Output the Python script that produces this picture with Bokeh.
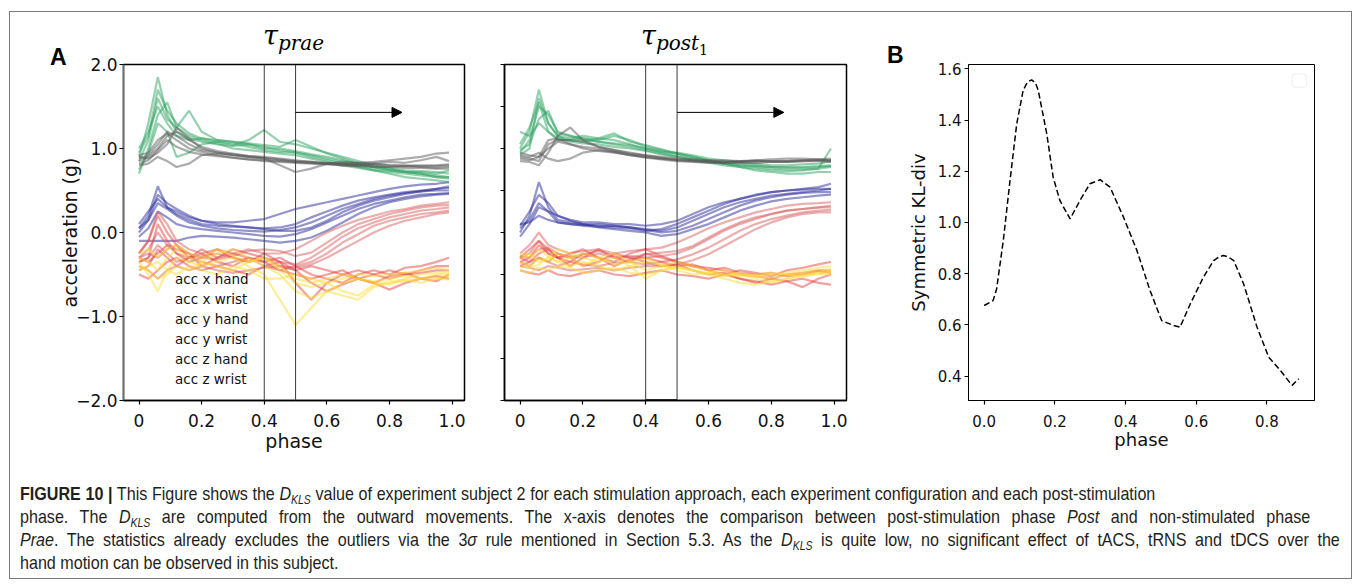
from bokeh.plotting import figure
from bokeh.models import (Span, Arrow, NormalHead, FixedTicker, Legend, LegendItem,
                          Div, BoxAnnotation, Range1d, PrintfTickFormatter,
                          GlobalInlineStyleSheet, InlineStyleSheet)
from bokeh.layouts import row, column
from bokeh.embed import file_html
from bokeh.resources import INLINE

# ---------------- data ----------------
phase = [0, 0.03, 0.06, 0.09, 0.12, 0.16, 0.2, 0.25, 0.3, 0.35, 0.4, 0.45, 0.5,
         0.55, 0.6, 0.65, 0.7, 0.75, 0.8, 0.85, 0.9, 0.95, 0.99]

series_names = ["acc x hand", "acc x wrist", "acc y hand", "acc y wrist", "acc z hand", "acc z wrist"]
series_colors = ["#2a2a9a", "#d95f5f", "#e74141", "#ffdd33", "#2ca25f", "#5a5a5a"]

# tau_prae traces
prae_x_hand = [
    [0.05, 0.20, 0.55, 0.30, 0.22, 0.15, 0.10, 0.08, 0.07, 0.06, 0.05, 0.06, 0.10, 0.18, 0.25, 0.32, 0.38, 0.42, 0.45, 0.48, 0.50, 0.52, 0.53],
    [0.00, 0.15, 0.35, 0.28, 0.20, 0.12, 0.08, 0.05, 0.03, 0.02, 0.01, 0.03, 0.06, 0.12, 0.20, 0.28, 0.34, 0.40, 0.44, 0.47, 0.49, 0.50, 0.50],
    [0.10, 0.25, 0.40, 0.30, 0.25, 0.18, 0.14, 0.12, 0.12, 0.14, 0.16, 0.22, 0.28, 0.32, 0.36, 0.40, 0.44, 0.48, 0.52, 0.55, 0.57, 0.58, 0.60],
    [-0.05, 0.05, 0.25, 0.18, 0.10, 0.06, 0.04, 0.02, 0.00, -0.02, -0.04, -0.05, -0.02, 0.04, 0.12, 0.20, 0.28, 0.34, 0.38, 0.42, 0.45, 0.46, 0.47],
    [0.05, 0.15, 0.45, 0.35, 0.28, 0.20, 0.14, 0.10, 0.08, 0.06, 0.04, 0.02, 0.02, 0.06, 0.14, 0.24, 0.32, 0.38, 0.42, 0.46, 0.49, 0.52, 0.55],
    [-0.10, -0.10, -0.10, -0.10, -0.10, -0.06, -0.04, -0.05, -0.06, -0.08, -0.10, -0.12, -0.10, -0.06, 0.02, 0.12, 0.22, 0.30, 0.36, 0.40, 0.43, 0.45, 0.46],
]
prae_x_wrist = [
    [-0.30, -0.20, 0.00, -0.15, -0.25, -0.30, -0.28, -0.25, -0.30, -0.35, -0.30, -0.35, -0.38, -0.30, -0.18, -0.05, 0.05, 0.12, 0.18, 0.22, 0.26, 0.28, 0.30],
    [-0.35, -0.30, -0.15, -0.25, -0.35, -0.30, -0.35, -0.40, -0.35, -0.30, -0.40, -0.45, -0.40, -0.35, -0.25, -0.12, -0.02, 0.08, 0.14, 0.18, 0.22, 0.24, 0.26],
    [-0.25, -0.10, 0.25, 0.10, -0.10, -0.20, -0.25, -0.20, -0.25, -0.20, -0.25, -0.25, -0.20, -0.10, 0.00, 0.08, 0.15, 0.20, 0.25, 0.28, 0.32, 0.34, 0.36],
    [-0.40, -0.45, -0.55, -0.45, -0.40, -0.45, -0.40, -0.45, -0.48, -0.45, -0.42, -0.40, -0.42, -0.38, -0.30, -0.20, -0.10, 0.00, 0.08, 0.14, 0.18, 0.22, 0.24],
    [-0.30, -0.25, -0.30, -0.20, -0.15, -0.25, -0.30, -0.32, -0.28, -0.22, -0.20, -0.22, -0.28, -0.24, -0.12, 0.00, 0.10, 0.16, 0.22, 0.26, 0.30, 0.32, 0.33],
]
prae_y_hand = [
    [-0.35, -0.30, 0.10, -0.10, -0.25, -0.35, -0.30, -0.20, -0.30, -0.35, -0.25, -0.35, -0.60, -0.80, -0.60, -0.50, -0.55, -0.50, -0.45, -0.50, -0.45, -0.40, -0.40],
    [-0.45, -0.40, -0.20, -0.30, -0.40, -0.30, -0.25, -0.35, -0.40, -0.30, -0.35, -0.45, -0.50, -0.55, -0.50, -0.45, -0.55, -0.60, -0.52, -0.48, -0.55, -0.58, -0.50],
    [-0.25, -0.10, 0.20, 0.00, -0.15, -0.30, -0.20, -0.30, -0.25, -0.30, -0.35, -0.30, -0.40, -0.50, -0.55, -0.60, -0.50, -0.45, -0.50, -0.42, -0.40, -0.35, -0.30],
    [-0.50, -0.55, -0.45, -0.35, -0.30, -0.40, -0.45, -0.40, -0.45, -0.50, -0.40, -0.35, -0.45, -0.60, -0.70, -0.62, -0.55, -0.60, -0.68, -0.60, -0.55, -0.52, -0.55],
    [-0.30, -0.35, -0.25, -0.15, -0.20, -0.25, -0.40, -0.30, -0.20, -0.25, -0.30, -0.40, -0.45, -0.40, -0.45, -0.50, -0.45, -0.50, -0.55, -0.50, -0.48, -0.45, -0.45],
]
prae_y_wrist = [
    [-0.35, -0.50, -0.70, -0.45, -0.30, -0.35, -0.40, -0.35, -0.30, -0.40, -0.50, -0.80, -1.10, -0.90, -0.70, -0.60, -0.55, -0.58, -0.55, -0.52, -0.55, -0.50, -0.50],
    [-0.30, -0.35, -0.45, -0.30, -0.20, -0.30, -0.35, -0.25, -0.20, -0.30, -0.40, -0.50, -0.70, -0.78, -0.70, -0.75, -0.80, -0.65, -0.60, -0.58, -0.55, -0.55, -0.52],
    [-0.40, -0.45, -0.55, -0.50, -0.40, -0.45, -0.35, -0.40, -0.45, -0.35, -0.30, -0.40, -0.55, -0.60, -0.55, -0.50, -0.55, -0.60, -0.62, -0.55, -0.50, -0.48, -0.48],
    [-0.25, -0.20, -0.30, -0.20, -0.15, -0.25, -0.30, -0.20, -0.28, -0.35, -0.30, -0.45, -0.60, -0.65, -0.60, -0.55, -0.50, -0.52, -0.50, -0.48, -0.45, -0.42, -0.45],
    [-0.45, -0.40, -0.35, -0.45, -0.50, -0.40, -0.45, -0.50, -0.40, -0.45, -0.55, -0.55, -0.50, -0.55, -0.60, -0.70, -0.75, -0.62, -0.58, -0.56, -0.60, -0.55, -0.56],
]
prae_z_hand = [
    [0.90, 1.30, 1.85, 1.40, 1.20, 1.12, 1.08, 1.05, 1.03, 1.05, 1.02, 0.98, 0.95, 0.92, 0.88, 0.84, 0.80, 0.76, 0.74, 0.72, 0.70, 0.68, 0.66],
    [0.85, 1.10, 1.60, 1.35, 1.25, 1.45, 1.20, 1.10, 1.08, 1.05, 1.00, 1.00, 0.97, 0.93, 0.90, 0.86, 0.82, 0.78, 0.76, 0.74, 0.73, 0.72, 0.70],
    [1.00, 1.20, 1.50, 1.30, 1.15, 1.10, 1.12, 1.08, 1.04, 1.10, 1.22, 1.08, 1.05, 1.00, 0.95, 0.90, 0.85, 0.80, 0.76, 0.72, 0.70, 0.66, 0.64],
    [0.75, 0.95, 1.30, 1.20, 0.90, 0.95, 1.05, 1.08, 1.06, 1.02, 0.98, 0.96, 0.95, 0.90, 0.86, 0.82, 0.78, 0.74, 0.70, 0.66, 0.64, 0.62, 0.60],
    [0.95, 1.15, 1.70, 1.45, 1.30, 1.18, 1.12, 1.10, 1.08, 1.06, 1.04, 1.02, 1.10, 1.02, 0.94, 0.88, 0.82, 0.78, 0.74, 0.72, 0.72, 0.70, 0.74],
    [0.70, 1.00, 1.40, 1.55, 1.25, 1.15, 1.10, 1.06, 1.00, 0.98, 0.96, 0.94, 0.92, 0.88, 0.84, 0.80, 0.77, 0.74, 0.72, 0.70, 0.68, 0.66, 0.66],
]
prae_z_wrist = [
    [0.85, 0.90, 1.00, 1.15, 1.20, 1.10, 1.02, 0.97, 0.94, 0.91, 0.89, 0.87, 0.85, 0.84, 0.83, 0.82, 0.81, 0.81, 0.80, 0.80, 0.79, 0.79, 0.80],
    [0.90, 0.88, 0.95, 1.05, 1.25, 1.12, 1.00, 0.95, 0.92, 0.90, 0.88, 0.86, 0.84, 0.83, 0.82, 0.82, 0.83, 0.82, 0.80, 0.79, 0.78, 0.77, 0.78],
    [0.80, 0.82, 0.90, 0.85, 0.78, 0.82, 0.92, 0.94, 0.92, 0.90, 0.88, 0.80, 0.72, 0.76, 0.82, 0.84, 0.83, 0.84, 0.86, 0.88, 0.90, 0.94, 0.95],
    [0.88, 0.92, 1.05, 1.20, 1.15, 1.05, 0.98, 0.95, 0.93, 0.91, 0.90, 0.88, 0.86, 0.84, 0.82, 0.80, 0.79, 0.78, 0.78, 0.79, 0.80, 0.80, 0.81],
    [0.92, 0.95, 1.10, 1.18, 1.10, 1.00, 0.96, 0.92, 0.89, 0.87, 0.85, 0.84, 0.83, 0.82, 0.81, 0.80, 0.80, 0.82, 0.84, 0.83, 0.86, 0.90, 0.85],
    [0.82, 0.86, 0.98, 1.10, 1.02, 0.96, 0.93, 0.91, 0.89, 0.87, 0.86, 0.85, 0.84, 0.83, 0.82, 0.81, 0.80, 0.79, 0.78, 0.77, 0.77, 0.76, 0.76],
]

# tau_post1 traces
post_x_hand = [
    [0.00, 0.20, 0.60, 0.30, 0.15, 0.12, 0.10, 0.08, 0.08, 0.06, 0.04, 0.02, 0.06, 0.14, 0.22, 0.30, 0.36, 0.40, 0.44, 0.46, 0.48, 0.50, 0.52],
    [0.05, 0.15, 0.35, 0.25, 0.12, 0.10, 0.09, 0.10, 0.08, 0.06, 0.03, 0.00, 0.02, 0.08, 0.16, 0.24, 0.32, 0.38, 0.42, 0.45, 0.47, 0.48, 0.48],
    [-0.05, 0.10, 0.30, 0.25, 0.20, 0.15, 0.12, 0.12, 0.10, 0.10, 0.08, 0.10, 0.14, 0.22, 0.30, 0.36, 0.40, 0.44, 0.48, 0.50, 0.52, 0.54, 0.58],
    [0.08, 0.25, 0.45, 0.35, 0.20, 0.14, 0.10, 0.06, 0.04, 0.02, 0.00, -0.04, -0.02, 0.04, 0.10, 0.18, 0.26, 0.32, 0.37, 0.40, 0.42, 0.44, 0.45],
    [0.10, 0.12, 0.20, 0.15, 0.12, 0.10, 0.08, 0.07, 0.06, 0.05, 0.02, 0.04, 0.10, 0.18, 0.26, 0.34, 0.40, 0.45, 0.48, 0.50, 0.51, 0.52, 0.52],
]
post_x_wrist = [
    [-0.30, -0.25, -0.10, -0.25, -0.30, -0.28, -0.30, -0.25, -0.30, -0.28, -0.30, -0.28, -0.25, -0.18, -0.08, 0.02, 0.10, 0.16, 0.22, 0.26, 0.28, 0.30, 0.30],
    [-0.35, -0.40, -0.30, -0.35, -0.40, -0.35, -0.38, -0.40, -0.36, -0.35, -0.38, -0.35, -0.32, -0.26, -0.18, -0.08, 0.02, 0.10, 0.16, 0.20, 0.24, 0.26, 0.27],
    [-0.25, -0.15, 0.00, -0.15, -0.20, -0.25, -0.22, -0.20, -0.25, -0.22, -0.20, -0.18, -0.12, -0.04, 0.05, 0.12, 0.18, 0.24, 0.28, 0.32, 0.34, 0.35, 0.36],
    [-0.40, -0.42, -0.45, -0.40, -0.42, -0.45, -0.44, -0.42, -0.45, -0.42, -0.40, -0.40, -0.38, -0.33, -0.26, -0.16, -0.06, 0.04, 0.12, 0.18, 0.22, 0.24, 0.24],
    [-0.28, -0.30, -0.20, -0.18, -0.25, -0.30, -0.26, -0.22, -0.28, -0.30, -0.26, -0.24, -0.22, -0.16, -0.06, 0.04, 0.12, 0.18, 0.22, 0.26, 0.28, 0.30, 0.32],
]
post_y_hand = [
    [-0.35, -0.30, -0.15, -0.25, -0.30, -0.40, -0.30, -0.20, -0.30, -0.35, -0.25, -0.30, -0.35, -0.40, -0.42, -0.45, -0.50, -0.52, -0.55, -0.50, -0.48, -0.45, -0.45],
    [-0.40, -0.35, -0.30, -0.35, -0.25, -0.30, -0.40, -0.35, -0.25, -0.30, -0.35, -0.40, -0.38, -0.45, -0.50, -0.48, -0.55, -0.60, -0.55, -0.58, -0.65, -0.55, -0.50],
    [-0.30, -0.20, -0.10, -0.20, -0.30, -0.25, -0.20, -0.30, -0.35, -0.25, -0.20, -0.28, -0.35, -0.40, -0.45, -0.50, -0.45, -0.48, -0.52, -0.45, -0.42, -0.38, -0.35],
    [-0.45, -0.48, -0.50, -0.45, -0.50, -0.52, -0.48, -0.45, -0.50, -0.52, -0.48, -0.45, -0.50, -0.52, -0.55, -0.50, -0.55, -0.58, -0.62, -0.58, -0.55, -0.60, -0.62],
    [-0.30, -0.35, -0.25, -0.20, -0.30, -0.35, -0.25, -0.30, -0.40, -0.32, -0.30, -0.35, -0.40, -0.38, -0.45, -0.42, -0.48, -0.50, -0.48, -0.52, -0.50, -0.46, -0.48],
]
post_y_wrist = [
    [-0.35, -0.40, -0.30, -0.35, -0.25, -0.30, -0.40, -0.30, -0.25, -0.35, -0.45, -0.40, -0.35, -0.40, -0.45, -0.50, -0.48, -0.52, -0.55, -0.50, -0.48, -0.45, -0.44],
    [-0.30, -0.25, -0.35, -0.30, -0.20, -0.25, -0.30, -0.35, -0.30, -0.40, -0.55, -0.45, -0.40, -0.45, -0.50, -0.52, -0.50, -0.55, -0.60, -0.55, -0.50, -0.48, -0.46],
    [-0.40, -0.42, -0.38, -0.30, -0.35, -0.40, -0.35, -0.40, -0.45, -0.40, -0.35, -0.38, -0.45, -0.50, -0.48, -0.45, -0.50, -0.52, -0.50, -0.48, -0.45, -0.42, -0.40],
    [-0.25, -0.30, -0.20, -0.28, -0.35, -0.30, -0.25, -0.30, -0.38, -0.35, -0.30, -0.40, -0.42, -0.45, -0.48, -0.50, -0.52, -0.50, -0.48, -0.50, -0.52, -0.48, -0.50],
    [-0.45, -0.48, -0.42, -0.45, -0.40, -0.42, -0.48, -0.45, -0.42, -0.48, -0.50, -0.45, -0.42, -0.45, -0.50, -0.55, -0.60, -0.62, -0.58, -0.55, -0.52, -0.50, -0.48],
]
post_z_hand = [
    [1.00, 1.20, 1.70, 1.30, 1.15, 1.12, 1.15, 1.12, 1.10, 1.05, 1.00, 0.96, 0.92, 0.88, 0.86, 0.84, 0.82, 0.80, 0.78, 0.78, 0.78, 0.79, 0.80],
    [0.95, 1.10, 1.50, 1.40, 1.20, 1.15, 1.12, 1.10, 1.15, 1.10, 1.02, 0.98, 0.94, 0.90, 0.86, 0.82, 0.80, 0.78, 0.76, 0.75, 0.75, 0.76, 0.78],
    [1.05, 1.25, 1.55, 1.20, 1.10, 1.10, 1.12, 1.08, 1.05, 1.02, 0.98, 0.94, 0.90, 0.86, 0.83, 0.80, 0.78, 0.74, 0.72, 0.70, 0.70, 0.72, 0.72],
    [0.98, 1.05, 1.35, 1.45, 1.18, 1.15, 1.10, 1.08, 1.06, 1.04, 1.00, 0.96, 0.95, 0.92, 0.88, 0.86, 0.84, 0.82, 0.80, 0.80, 0.81, 0.82, 0.85],
    [1.20, 1.15, 1.30, 1.20, 1.12, 1.10, 1.08, 1.12, 1.18, 1.08, 1.04, 0.99, 0.94, 0.90, 0.86, 0.82, 0.78, 0.76, 0.74, 0.73, 0.74, 0.76, 1.00],
    [0.92, 1.00, 1.60, 1.30, 1.15, 1.08, 1.06, 1.05, 1.02, 1.00, 0.97, 0.93, 0.90, 0.87, 0.84, 0.82, 0.80, 0.79, 0.78, 0.77, 0.77, 0.78, 0.79],
]
post_z_wrist = [
    [0.90, 0.88, 0.85, 1.05, 1.10, 1.10, 1.08, 1.02, 0.98, 0.95, 0.92, 0.90, 0.88, 0.87, 0.86, 0.86, 0.85, 0.85, 0.85, 0.85, 0.86, 0.86, 0.86],
    [0.85, 0.84, 0.80, 0.95, 1.15, 1.25, 1.10, 1.02, 0.98, 0.94, 0.92, 0.89, 0.87, 0.86, 0.85, 0.84, 0.85, 0.86, 0.85, 0.84, 0.85, 0.86, 0.85],
    [0.92, 0.90, 0.95, 0.88, 0.85, 0.88, 0.95, 0.98, 0.96, 0.93, 0.90, 0.88, 0.86, 0.85, 0.84, 0.83, 0.84, 0.86, 0.87, 0.88, 0.88, 0.87, 0.88],
    [0.88, 0.86, 0.90, 1.10, 1.12, 1.05, 1.00, 0.97, 0.95, 0.92, 0.90, 0.88, 0.86, 0.85, 0.84, 0.84, 0.83, 0.83, 0.84, 0.85, 0.86, 0.87, 0.86],
    [0.95, 0.92, 0.90, 1.00, 1.08, 1.05, 1.02, 1.00, 0.96, 0.92, 0.89, 0.87, 0.85, 0.84, 0.83, 0.83, 0.84, 0.85, 0.84, 0.84, 0.85, 0.85, 0.84],
]

# panel B: symmetric KL divergence
kl_phase = [0.0, 0.025, 0.035, 0.054, 0.073, 0.092, 0.11, 0.122, 0.134, 0.145, 0.153, 0.177, 0.195, 0.214,
            0.243, 0.271, 0.299, 0.328, 0.356, 0.394, 0.432, 0.469, 0.502, 0.536, 0.554,
            0.583, 0.62, 0.649, 0.665, 0.677, 0.69, 0.706, 0.734, 0.772, 0.805, 0.838, 0.871, 0.89]
kl_value = [0.676, 0.695, 0.74, 0.93, 1.164, 1.385, 1.515, 1.548, 1.557, 1.545, 1.515, 1.346, 1.177, 1.086,
            1.014, 1.086, 1.151, 1.167, 1.138, 1.021, 0.891, 0.735, 0.617, 0.598, 0.591,
            0.682, 0.786, 0.851, 0.866, 0.871, 0.866, 0.851, 0.760, 0.591, 0.474, 0.422, 0.364, 0.39]

window_bounds = [0.4, 0.5]
arrow_y = 1.43
arrow_end = 0.84

TICK_FONT = "DejaVu Sans"


def style_axes(p, tick_size, label_size, lw=1.5):
    for ax in (p.xaxis[0], p.yaxis[0]):
        ax.axis_line_color = "black"
        ax.axis_line_width = lw
        ax.major_tick_line_color = "black"
        ax.major_tick_line_width = 1.2
        ax.major_tick_in = 0
        ax.major_tick_out = 4
        ax.minor_tick_line_color = None
        ax.major_label_text_font = TICK_FONT
        ax.major_label_text_font_size = tick_size
        ax.major_label_text_color = "#111111"
        ax.major_label_standoff = 3
        ax.axis_label_text_font = TICK_FONT
        ax.axis_label_text_font_style = "normal"
        ax.axis_label_text_font_size = label_size
        ax.axis_label_text_color = "#111111"
    p.xgrid.visible = False
    p.ygrid.visible = False
    p.outline_line_color = "black"
    p.outline_line_width = lw
    p.background_fill_color = "white"
    p.border_fill_color = "white"


def add_traces(p, groups):
    for traces, color in zip(groups, series_colors):
        p.multi_line(xs=[phase] * len(traces), ys=traces, line_color=color,
                     line_alpha=0.5, line_width=2.2)


def add_window(p):
    for loc in window_bounds:
        p.add_layout(Span(location=loc, dimension="height", line_color="#3c3c3c", line_width=1))
    p.add_layout(Arrow(end=NormalHead(size=10, fill_color="black", line_color="black"),
                       x_start=window_bounds[1], y_start=arrow_y, x_end=arrow_end, y_end=arrow_y,
                       line_color="black", line_width=1))


# ---------------- panel A, tau_prae ----------------
p1 = figure(width=470, height=465, x_range=Range1d(-0.0495, 1.0395), y_range=Range1d(-2, 2),
            output_backend="svg", toolbar_location=None, title=None,
            min_border_left=113, min_border_right=16, min_border_top=51, min_border_bottom=75)
style_axes(p1, "17px", "19px")
p1.xaxis.ticker = FixedTicker(ticks=[0, 0.2, 0.4, 0.6, 0.8, 1.0])
p1.xaxis.major_label_overrides = {0: "0", 1: "1.0"}
p1.xaxis.major_label_standoff = 9
p1.yaxis.ticker = FixedTicker(ticks=[-2, -1, 0, 1, 2])
p1.yaxis.major_label_overrides = {-2: "\u22122.0", -1: "\u22121.0", 0: "0.0", 1: "1.0", 2: "2.0"}
p1.yaxis.major_label_standoff = 2
p1.xaxis.axis_label = "phase"
p1.yaxis.axis_label = "acceleration (g)"
p1.xaxis.axis_label_standoff = 0
p1.yaxis.axis_label_standoff = -8
p1.yaxis.axis_line_color = "#6e6e6e"
add_traces(p1, [prae_x_hand, prae_x_wrist, prae_y_hand, prae_y_wrist, prae_z_hand, prae_z_wrist])
add_window(p1)

items = []
for name, color in zip(series_names, series_colors):
    r = p1.line(x=[], y=[], line_color=color, line_alpha=0.45, line_width=3)
    items.append(LegendItem(label=name, renderers=[r]))
legend = Legend(items=items, location="bottom_left", background_fill_alpha=0,
                border_line_alpha=0, label_text_font="DejaVu Sans", label_text_font_size="13.5px",
                label_text_color="#111111", glyph_width=30, glyph_height=20, label_height=20,
                spacing=0, label_standoff=11, margin=1, padding=10)
p1.add_layout(legend)

# ---------------- panel A, tau_post1 ----------------
p2 = figure(width=390, height=465, x_range=Range1d(-0.0495, 1.0395), y_range=Range1d(-2, 2),
            output_backend="svg", toolbar_location=None, title=None,
            min_border_left=24, min_border_right=24, min_border_top=52, min_border_bottom=75)
style_axes(p2, "17px", "19px")
p2.xaxis.ticker = FixedTicker(ticks=[0, 0.2, 0.4, 0.6, 0.8, 1.0])
p2.xaxis.major_label_overrides = {0: "0", 1: "1.0"}
p2.xaxis.major_label_standoff = 9
# unlabelled y ticks: drawn as minor ticks so that no empty labels are produced
p2.yaxis.ticker = FixedTicker(ticks=[], minor_ticks=[-2, -1.5, -1, -0.5, 0, 0.5, 1, 1.5, 2])
p2.yaxis.minor_tick_line_color = "black"
p2.yaxis.minor_tick_line_width = 1.2
p2.yaxis.minor_tick_in = 0
p2.yaxis.minor_tick_out = 4
add_traces(p2, [post_x_hand, post_x_wrist, post_y_hand, post_y_wrist, post_z_hand, post_z_wrist])
add_window(p2)
p2.add_layout(BoxAnnotation(left=window_bounds[0], right=window_bounds[1], bottom=-2, top=-1.985,
                            fill_color="black", fill_alpha=1, line_color=None))

# ---------------- panel B ----------------
p3 = figure(width=481, height=465, x_range=Range1d(-0.0445, 0.9345), y_range=Range1d(0.305, 1.6168),
            output_backend="svg", toolbar_location=None, title=None,
            min_border_left=98, min_border_right=37, min_border_top=52, min_border_bottom=77)
style_axes(p3, "15px", "18px", lw=1)
p3.xaxis.ticker = FixedTicker(ticks=[0, 0.2, 0.4, 0.6, 0.8])
p3.yaxis.ticker = FixedTicker(ticks=[0.4, 0.6, 0.8, 1.0, 1.2, 1.4, 1.6])
p3.xaxis.formatter = PrintfTickFormatter(format="%.1f")
p3.yaxis.formatter = PrintfTickFormatter(format="%.1f")
p3.xaxis.major_label_standoff = 10
p3.xaxis.axis_label = "phase"
p3.yaxis.axis_label = "Symmetric KL-div"
p3.xaxis.axis_label_standoff = -1
p3.yaxis.axis_label_standoff = 6
p3.line(kl_phase, kl_value, line_color="black", line_width=1.5, line_dash="6 3")
p3.add_layout(BoxAnnotation(left=0.8715, right=0.912, bottom=1.528, top=1.580,
                            fill_color="white", fill_alpha=1, line_color="#c8c8c8",
                            line_width=1, border_radius=3))

# ---------------- panel letters, panel titles and caption (HTML) ----------------
serif = "font-family:'DejaVu Serif',serif;font-style:italic;"
overlay = (
    '<div style="position:relative;height:0;width:0;">'
    '<div style="position:absolute;left:30px;top:-436px;font-family:\'Liberation Sans\',Arial,sans-serif;'
    'font-weight:bold;font-size:23px;line-height:23px;color:#000;">A</div>'
    '<div style="position:absolute;left:867px;top:-438px;font-family:\'Liberation Sans\',Arial,sans-serif;'
    'font-weight:bold;font-size:23px;line-height:23px;color:#000;">B</div>'
    '<div style="position:absolute;left:243px;top:-460px;white-space:nowrap;font-size:27px;line-height:27px;'
    + serif + 'color:#000;">\u03c4<span style="font-size:20px;position:relative;top:5px;">prae</span></div>'
    '<div style="position:absolute;left:621px;top:-460px;white-space:nowrap;font-size:27px;line-height:27px;'
    + serif + 'color:#000;">\u03c4<span style="font-size:20px;position:relative;top:5px;">post</span>'
    '<span style="font-size:14px;font-style:normal;position:relative;top:10px;">1</span></div>'
    '</div>'
)

sub = '<sub style="font-size:12px;line-height:0;vertical-align:-4px;font-style:italic">KLS</sub>'
D = '<i>D</i>' + sub
caption_lines = [
    '<b>FIGURE 10 |</b> This Figure shows the ' + D + ' value of experiment subject 2 for each stimulation approach, each experiment configuration and each post-stimulation',
    'phase. The ' + D + ' are computed from the outward movements. The x-axis denotes the comparison between post-stimulation phase <i>Post</i> and non-stimulated phase',
    '<i>Prae</i>. The statistics already excludes the outliers via the 3<i>\u03c3</i> rule mentioned in Section 5.3. As the ' + D + ' is quite low, no significant effect of tACS, tRNS and tDCS over the',
    'hand motion can be observed in this subject.',
]
caption_scale = 0.87
caption_widths = [1135, 1290, 1320, None]
line_divs = []
for text, w in zip(caption_lines, caption_widths):
    if w is None:
        st = "white-space:nowrap;"
    else:
        st = ("white-space:nowrap;width:%dpx;text-align:justify;text-align-last:justify;"
              % round(w / caption_scale))
    line_divs.append('<div style="%s">%s</div>' % (st, text))
caption_html = (overlay +
                '<div style="font-family:\'Liberation Sans\',Arial,sans-serif;font-size:18.5px;'
                'line-height:23px;color:#231f20;transform:scaleX(%.2f);transform-origin:0 0;">'
                % caption_scale + ''.join(line_divs) + '</div>')
cap = Div(text=caption_html, width=1341, height=101, margin=0,
          styles={"padding-left": "10px", "padding-top": "5px", "box-sizing": "border-box",
                  "overflow": "visible", "z-index": "5"},
          stylesheets=[InlineStyleSheet(css=":host{overflow:visible !important;} div{overflow:visible;}")])

top = row(p1, p2, p3, spacing=0, margin=0)
root = column(top, cap, spacing=0, margin=(11, 0, 0, 9),
              styles={"border": "1px solid #7a7a7a"},
              stylesheets=[GlobalInlineStyleSheet(css="html,body{margin:0;padding:0;background:white;}")])

open("out.html", "w").write(file_html(root, INLINE))
